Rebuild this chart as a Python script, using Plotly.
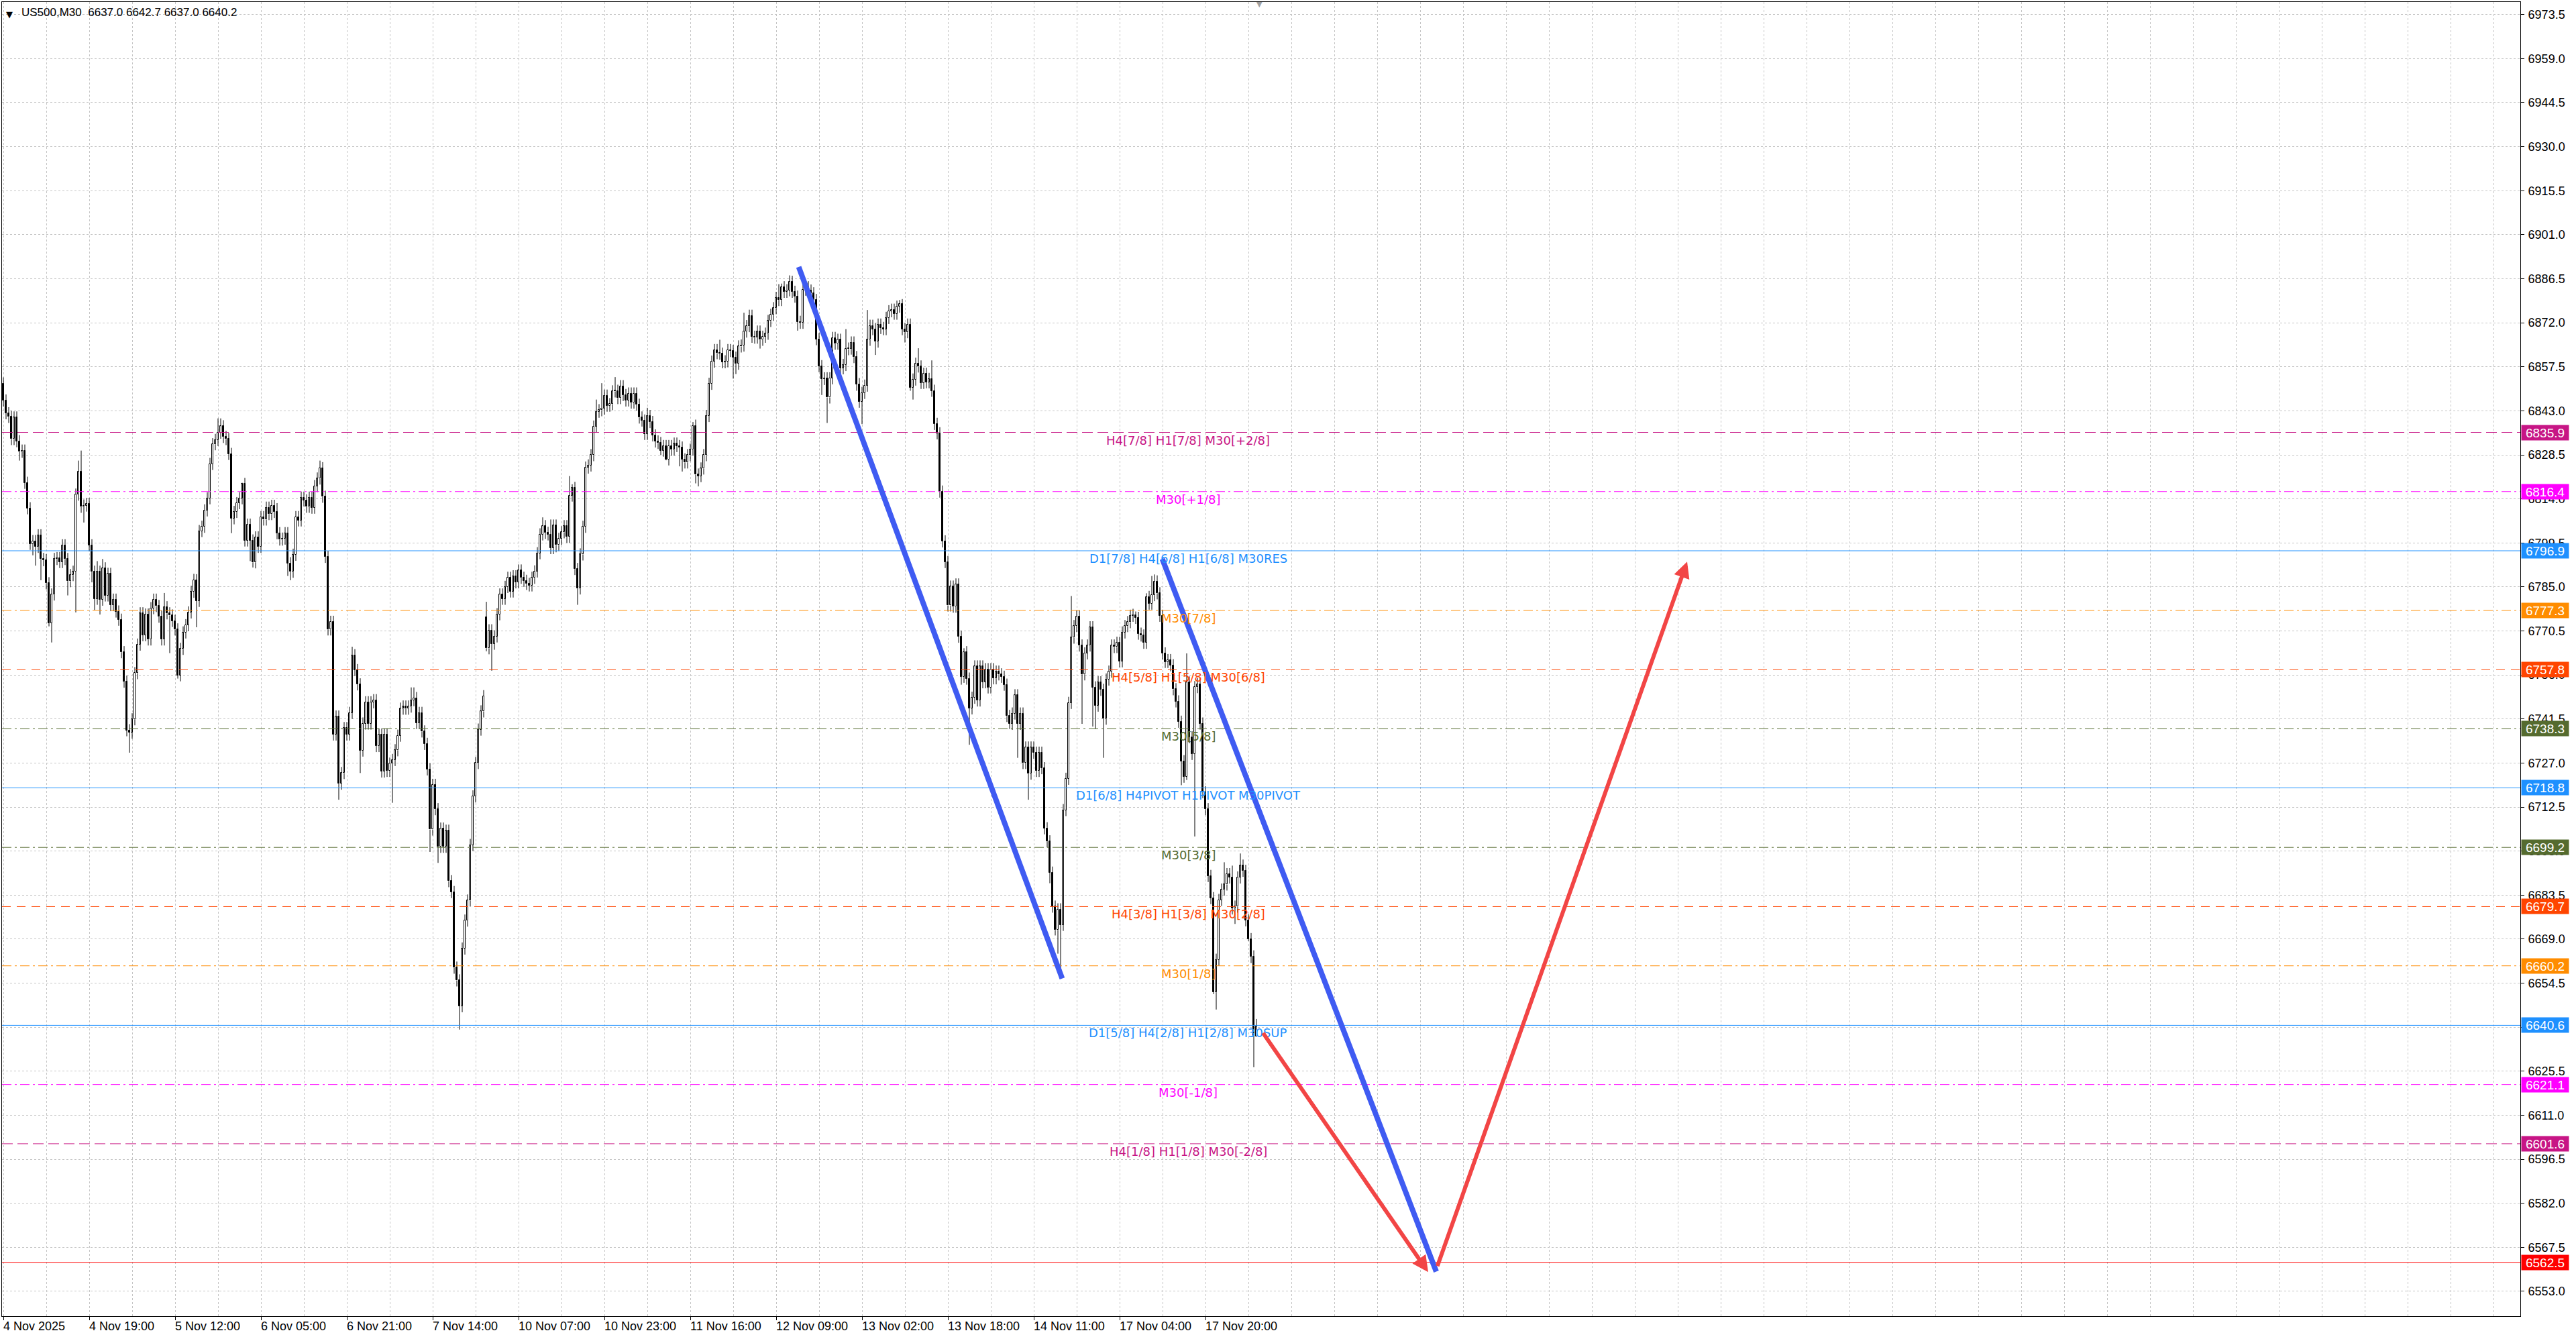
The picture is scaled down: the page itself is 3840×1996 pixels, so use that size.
import plotly.graph_objects as go

# ---------------- data ----------------
symbol_title = "US500,M30  6637.0 6642.7 6637.0 6640.2"

first_open = 6852.0
gap_opens = {180: 6775.0}

closes_4_7nov = [
    6846.4, 6842.2, 6841.0, 6833.7, 6840.8, 6833.0, 6829.5, 6829.9, 6819.3, 6810.9,
    6799.2, 6800.1, 6798.2, 6802.0, 6794.2, 6793.8, 6786.2, 6773.1, 6782.5, 6794.2,
    6794.5, 6793.2, 6798.7, 6794.2, 6786.9, 6788.9, 6790.0, 6815.4, 6823.0, 6811.4,
    6811.8, 6812.3, 6798.7, 6790.0, 6781.1, 6790.0, 6780.8, 6791.1, 6782.2, 6789.3,
    6779.0, 6780.8, 6776.9, 6774.2, 6763.5, 6753.8, 6737.8, 6737.1, 6741.4, 6756.6,
    6766.0, 6776.3, 6769.1, 6775.9, 6767.7, 6778.0, 6780.8, 6778.7, 6775.2, 6767.7,
    6778.3, 6776.3, 6775.6, 6773.8, 6771.0, 6755.9, 6764.6, 6770.0, 6772.4, 6776.6,
    6783.4, 6787.2, 6780.4, 6803.4, 6804.8, 6810.2, 6814.2, 6825.5, 6832.0, 6833.4,
    6835.8, 6837.9, 6834.4, 6833.7, 6828.8, 6807.6, 6809.7, 6812.6, 6814.2, 6818.9,
    6800.3, 6805.5, 6800.3, 6793.1, 6801.3, 6798.2, 6808.0, 6807.2, 6811.1, 6809.0,
    6811.7, 6809.7, 6802.7, 6800.6, 6800.9, 6802.7, 6792.8, 6790.0, 6795.6, 6808.0,
    6806.9, 6814.4, 6813.5, 6811.4, 6814.4, 6811.1, 6818.2, 6820.7, 6824.1, 6814.7,
    6794.9, 6771.0, 6773.5, 6736.4, 6742.3, 6720.2, 6723.7, 6738.5, 6736.4, 6743.5,
    6762.5, 6757.6, 6752.9, 6731.1, 6740.0, 6747.0, 6740.0, 6747.0, 6747.7, 6732.6,
    6736.4, 6724.2, 6736.4, 6724.4, 6726.8, 6728.0, 6731.2, 6736.0, 6744.9, 6745.6,
    6744.9, 6745.6, 6747.7, 6748.4, 6740.2, 6743.5, 6737.4, 6733.3, 6724.9, 6705.1,
    6719.8, 6711.8, 6699.4, 6705.4, 6699.4, 6704.7, 6688.1, 6684.5, 6659.6, 6655.4,
    6646.9, 6665.9, 6675.1, 6681.7, 6700.0, 6716.0, 6727.0, 6738.0, 6744.0, 6749.0,
]
closes_10_12nov = [
    6764.8, 6770.7, 6766.3, 6768.7, 6776.0, 6782.5, 6781.1, 6785.0, 6788.0, 6783.5,
    6788.5, 6786.5, 6790.4, 6788.0, 6787.0, 6786.0, 6785.5, 6788.0, 6790.1, 6796.1,
    6802.3, 6805.0, 6802.8, 6802.3, 6797.8, 6805.2, 6798.8, 6800.8, 6803.0, 6805.0,
    6801.5, 6815.1, 6817.6, 6790.9, 6784.5, 6795.7, 6804.8, 6824.3, 6825.0, 6828.4,
    6837.8, 6842.7, 6843.2, 6843.7, 6848.0, 6844.7, 6845.2, 6849.4, 6849.6, 6847.2,
    6851.1, 6848.2, 6846.4, 6848.7, 6845.7, 6848.7, 6845.0, 6840.8, 6839.8, 6835.4,
    6841.3, 6839.3, 6834.9, 6832.9, 6832.4, 6829.9, 6831.4, 6827.0, 6831.4, 6830.2,
    6832.2, 6831.4, 6830.9, 6827.0, 6826.0, 6828.4, 6830.2, 6838.1, 6822.0, 6821.5,
    6824.0, 6828.4, 6841.3, 6851.9, 6859.2, 6863.0, 6862.0, 6861.8, 6859.0, 6859.3,
    6863.0, 6862.7, 6860.5, 6858.5, 6864.2, 6864.5, 6869.1, 6870.9, 6874.3, 6867.4,
    6867.1, 6869.1, 6866.4, 6867.4, 6868.4, 6872.6, 6874.6, 6876.8, 6880.2, 6879.5,
    6883.7, 6882.2, 6882.7, 6885.5, 6882.2, 6880.6, 6872.3, 6872.0, 6882.9, 6883.7,
    6882.6, 6881.7, 6879.5,
]
closes_12_13nov = [
    6866.6, 6857.7, 6853.5, 6853.7, 6847.4, 6853.7, 6867.0,
    6865.1, 6866.4, 6857.0, 6858.1, 6863.3, 6863.5, 6865.5, 6860.7, 6851.8, 6846.0,
    6848.9, 6851.3, 6866.4, 6871.0, 6869.9, 6865.8, 6871.4, 6870.3, 6869.9, 6873.6,
    6875.8, 6876.3, 6875.0, 6877.3, 6878.2, 6869.9, 6868.9, 6871.4, 6850.7, 6853.3,
    6858.5, 6857.6, 6852.2, 6855.2, 6852.4, 6853.5, 6849.6, 6838.7, 6835.6, 6816.4,
]
closes_13_17nov = [
    6800.0, 6793.2, 6778.9, 6785.1, 6778.5, 6785.8, 6768.6, 6755.4, 6763.5, 6754.8,
    6745.0, 6748.5, 6758.8, 6747.6, 6758.8, 6753.6, 6757.9, 6751.9, 6757.9, 6754.9,
    6757.1, 6756.2, 6755.4, 6752.8, 6742.5, 6739.9, 6743.3, 6749.3, 6739.9, 6743.3,
    6727.0, 6732.1, 6723.5, 6732.1, 6730.4, 6724.4, 6730.4, 6725.3, 6705.5, 6701.2,
    6690.9, 6679.7, 6672.0, 6678.8, 6673.7, 6711.5, 6721.8, 6746.8, 6768.3, 6772.1,
    6775.2, 6765.7, 6756.2, 6763.1, 6765.7, 6771.7, 6751.9, 6745.9, 6753.6, 6751.1,
    6741.6, 6754.5, 6757.1, 6765.7, 6765.2, 6766.6, 6760.5, 6770.0, 6772.1, 6773.4,
    6775.5, 6775.8, 6774.8, 6769.6, 6769.0, 6766.6,
]
closes_17_18nov = [
    6781.7, 6779.5, 6782.3, 6786.8, 6782.9, 6775.5, 6763.1, 6760.3, 6760.9, 6759.2,
    6751.3, 6747.3, 6740.6, 6727.6, 6722.5, 6753.5, 6735.5, 6730.0, 6752.0, 6753.0,
    6740.0, 6717.4, 6711.8, 6689.8, 6682.5, 6651.5, 6662.2, 6681.9, 6685.3, 6687.0,
    6690.4, 6689.3, 6679.1, 6679.7, 6689.3, 6693.2, 6691.5, 6675.2, 6669.0, 6663.3,
    6637.0,
]
last_close = 6640.2

highs_read = {
    28: 6826.6, 29: 6829.9, 35: 6793.5, 37: 6794.2, 60: 6783.0, 71: 6789.3, 80: 6840.5,
    81: 6840.5, 89: 6819.3, 102: 6812.6, 118: 6826.6, 130: 6765.3, 152: 6751.9,
    153: 6751.9, 180: 6780.1, 201: 6807.9, 204: 6807.2, 211: 6821.5, 212: 6818.8,
    221: 6846.7, 223: 6852.1, 228: 6854.1, 240: 6844.0, 257: 6839.3, 267: 6866.4,
    276: 6875.3, 289: 6884.7, 290: 6884.9, 293: 6887.6, 314: 6869.9, 322: 6876.2,
    334: 6879.5, 335: 6879.8, 341: 6863.6, 346: 6859.6, 358: 6764.8, 398: 6782.0,
    422: 6776.9, 426: 6782.9, 428: 6788.6, 429: 6789.1, 441: 6763.1, 455: 6694.3,
    458: 6693.2, 461: 6697.2, 467: 6642.7,
}
lows_read = {
    6: 6826.6, 11: 6795.4, 12: 6792.0, 14: 6787.2, 17: 6772.0, 18: 6766.7, 24: 6782.2,
    27: 6776.6, 30: 6806.2, 33: 6786.5, 34: 6777.3, 36: 6775.9, 47: 6730.4, 48: 6735.0,
    62: 6763.2, 65: 6754.8, 72: 6771.7, 85: 6802.7, 92: 6793.5, 93: 6791.4, 106: 6788.6,
    107: 6787.2, 125: 6714.9, 133: 6723.7, 145: 6713.9, 159: 6697.7, 162: 6694.1,
    170: 6639.2, 180: 6763.8, 182: 6757.4, 206: 6796.4, 214: 6779.1, 245: 6828.4,
    247: 6826.7, 252: 6824.7, 253: 6823.0, 258: 6819.1, 259: 6818.1, 272: 6853.6,
    273: 6855.1, 282: 6863.5, 296: 6869.4, 305: 6848.2, 307: 6839.0, 318: 6849.6,
    320: 6838.6, 325: 6861.4, 336: 6865.5, 338: 6849.6, 339: 6846.7, 352: 6776.9,
    357: 6752.8, 360: 6733.0, 375: 6738.2, 378: 6728.7, 382: 6714.9, 390: 6687.4,
    392: 6670.2, 393: 6664.2, 394: 6657.3, 402: 6739.9, 406: 6739.0, 407: 6738.2,
    410: 6728.7, 439: 6719.7, 441: 6721.4, 444: 6702.8, 451: 6650.9, 452: 6645.8,
    459: 6674.0, 464: 6668.4, 465: 6661.1, 466: 6626.8, 467: 6637.0,
}

# Murrey-math style levels
level_prices = [6835.9, 6816.4, 6796.9, 6777.3, 6757.8, 6738.3, 6718.8,
                6699.2, 6679.7, 6660.2, 6640.6, 6621.1, 6601.6, 6562.5]
level_texts = ["H4[7/8] H1[7/8] M30[+2/8]", "M30[+1/8]", "D1[7/8] H4[6/8] H1[6/8] M30RES",
               "M30[7/8]", "H4[5/8] H1[5/8] M30[6/8]", "M30[5/8]",
               "D1[6/8] H4PIVOT H1PIVOT M30PIVOT", "M30[3/8]", "H4[3/8] H1[3/8] M30[2/8]",
               "M30[1/8]", "D1[5/8] H4[2/8] H1[2/8] M30SUP", "M30[-1/8]",
               "H4[1/8] H1[1/8] M30[-2/8]", ""]
level_colors = ["#C71585", "#FF00FF", "#1E90FF", "#FF8C00", "#FF4500", "#556B2F", "#1E90FF",
                "#556B2F", "#FF4500", "#FF8C00", "#1E90FF", "#FF00FF", "#C71585", "#FF0000"]
level_dash = ["16px,7px", "14px,5px,3px,5px", "solid", "14px,5px,3px,5px", "13px,9px",
              "14px,5px,3px,5px", "solid", "14px,5px,3px,5px", "13px,9px", "14px,5px,3px,5px",
              "solid", "14px,5px,3px,5px", "16px,7px", "solid"]

# trend lines (bar index, price)
blue_lines = [((296.4, 6890.4), (394.6, 6656.0)),
              ((431.9, 6794.2), (534.0, 6559.5))]
red_arrows = [((469.2, 6638.4), (531.0, 6559.3)),
              ((534.3, 6561.0), (627.5, 6793.3))]

y_ticks = [6553.0, 6567.5, 6582.0, 6596.5, 6611.0, 6625.5, 6640.0, 6654.5, 6669.0, 6683.5,
           6698.0, 6712.5, 6727.0, 6741.5, 6756.0, 6770.5, 6785.0, 6799.5, 6814.0, 6828.5,
           6843.0, 6857.5, 6872.0, 6886.5, 6901.0, 6915.5, 6930.0, 6944.5, 6959.0, 6973.5]
x_label_bars = [0, 32, 64, 96, 128, 160, 192, 224, 256, 288, 320, 352, 384, 416, 448]
x_label_text = ["4 Nov 2025", "4 Nov 19:00", "5 Nov 12:00", "6 Nov 05:00", "6 Nov 21:00",
                "7 Nov 14:00", "10 Nov 07:00", "10 Nov 23:00", "11 Nov 16:00", "12 Nov 09:00",
                "13 Nov 02:00", "13 Nov 18:00", "14 Nov 11:00", "17 Nov 04:00", "17 Nov 20:00"]

# ---------------- build candles ----------------
closes = (closes_4_7nov + closes_10_12nov + closes_12_13nov + closes_13_17nov
          + closes_17_18nov + [last_close])
n = len(closes)
DEFAULT_WICK = 2.0
opens, highs, lows = [], [], []
for i in range(n):
    if i == 0:
        o = first_open
    elif i in gap_opens:
        o = gap_opens[i]
    else:
        o = closes[i - 1]
    opens.append(o)
    top, bot = max(o, closes[i]), min(o, closes[i])
    highs.append(max(top, highs_read.get(i, top + DEFAULT_WICK)))
    lows.append(min(bot, lows_read.get(i, bot - DEFAULT_WICK)))

xs = list(range(n))
bases, heights, fills = [], [], []
wx, wy = [], []
for i in range(n):
    top, bot = max(opens[i], closes[i]), min(opens[i], closes[i])
    bases.append(bot)
    heights.append(max(top - bot, 0.25))
    fills.append("white" if closes[i] >= opens[i] else "black")
    wx += [i, i, None, i, i, None]
    wy += [top, highs[i], None, lows[i], bot, None]

fig = go.Figure()
fig.add_trace(go.Scatter(x=wx, y=wy, mode="lines", line=dict(color="black", width=1),
                         hoverinfo="skip", showlegend=False))
fig.add_trace(go.Bar(x=xs, y=heights, base=bases, width=0.6,
                     marker=dict(color=fills, line=dict(color="black", width=1)),
                     hoverinfo="skip", showlegend=False))

shapes = []
annotations = []
for p, t, c, d in zip(level_prices, level_texts, level_colors, level_dash):
    shapes.append(dict(type="line", xref="paper", x0=0, x1=1, yref="y", y0=p, y1=p,
                       line=dict(color=c, width=1, dash=d), layer="above"))
    if t:
        annotations.append(dict(x=441.5, y=p, xref="x", yref="y", text=t, showarrow=False,
                                xanchor="center", yanchor="top", yshift=1,
                                font=dict(family="DejaVu Sans", size=18, color=c)))
    annotations.append(dict(x=1, y=p, xref="paper", yref="y", text=f"{p:.1f}",
                            showarrow=False, xanchor="left", yanchor="middle", xshift=1,
                            width=70, height=22, borderpad=0, align="center", bgcolor=c,
                            font=dict(family="Liberation Sans", size=19, color="white")))

for (x0, y0), (x1, y1) in blue_lines:
    shapes.append(dict(type="line", xref="x", yref="y", x0=x0, y0=y0, x1=x1, y1=y1,
                       line=dict(color="#3F5BF2", width=8), layer="above"))

for (x0, y0), (x1, y1) in red_arrows:
    annotations.append(dict(x=x1, y=y1, ax=x0, ay=y0, xref="x", yref="y", axref="x",
                            ayref="y", text="", showarrow=True, arrowhead=2, arrowsize=0.8,
                            arrowwidth=6, arrowcolor="#F24545", standoff=0, startstandoff=0))

for b, t in zip(x_label_bars, x_label_text):
    annotations.append(dict(x=b, y=0, xref="x", yref="paper", text=t, showarrow=False,
                            xanchor="left", yanchor="top", xshift=-2, yshift=-3,
                            font=dict(family="Liberation Sans", size=18, color="black")))

annotations.append(dict(x=0, y=1, xref="paper", yref="paper", text=symbol_title,
                        showarrow=False, xanchor="left", yanchor="top", xshift=27, yshift=-4,
                        font=dict(family="Liberation Sans", size=17, color="black")))
annotations.append(dict(x=0, y=1, xref="paper", yref="paper", text="▼", showarrow=False,
                        xanchor="center", yanchor="middle", xshift=11, yshift=-18,
                        font=dict(family="DejaVu Sans", size=13, color="black")))
annotations.append(dict(x=n, y=1, xref="x", yref="paper", text="▼", showarrow=False,
                        xanchor="center", yanchor="middle", yshift=-3,
                        font=dict(family="DejaVu Sans", size=11, color="#A0A0A0")))

minor_x = [v for v in range(16, 938, 16) if v not in x_label_bars]
grid_style = dict(gridcolor="#C4C4C4", griddash="3px,3px", gridwidth=1)

fig.update_layout(
    width=3840, height=1996,
    margin=dict(l=3, r=83, t=3, b=34, autoexpand=False),
    paper_bgcolor="white", plot_bgcolor="white",
    showlegend=False, bargap=0, barmode="overlay",
    shapes=shapes, annotations=annotations,
    xaxis=dict(range=[-0.5, 938.0], tickvals=x_label_bars, showticklabels=False,
               ticks="outside", ticklen=5, tickcolor="black", showgrid=True, **grid_style,
               minor=dict(tickvals=minor_x, showgrid=True, ticks="", **grid_style),
               showline=True, linecolor="black", linewidth=1, mirror=True, zeroline=False),
    yaxis=dict(range=[6544.8, 6977.64], side="right", tickvals=y_ticks,
               ticktext=[f"{v:.1f}" for v in y_ticks], ticks="outside", ticklen=5,
               tickcolor="black", ticklabelstandoff=2,
               tickfont=dict(family="Liberation Sans", size=18, color="black"),
               showgrid=True, **grid_style,
               showline=True, linecolor="black", linewidth=1, mirror=True, zeroline=False),
)

fig.write_html("out.html", config={"displayModeBar": False},
               post_script="document.body.style.margin='0';document.body.style.overflow='hidden';")
